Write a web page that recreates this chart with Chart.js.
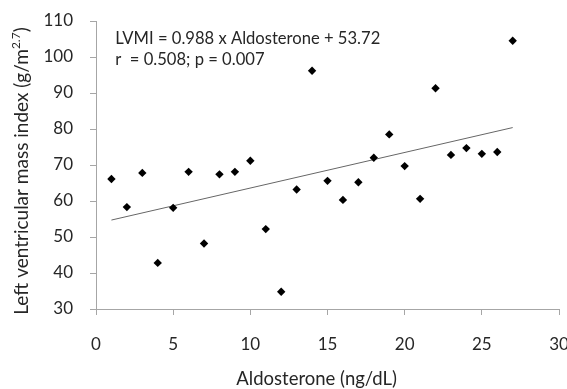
<!DOCTYPE html>
<html>
<head>
<meta charset="utf-8">
<script src="https://cdn.jsdelivr.net/npm/chart.js@4.4.0/dist/chart.umd.min.js"></script>
<style>
  html, body { margin: 0; padding: 0; background: #fff; }
  #wrap { width: 567px; height: 389px; }
</style>
</head>
<body>
<div id="wrap"><canvas id="c" width="567" height="389"></canvas></div>
<script>
// aldosterone (ng/dL) and LVMI (g/m^2.7)
var aldosterone = [1, 2, 3, 4, 5, 6, 7, 8, 9, 10, 11, 12, 13, 14, 15, 16, 17, 18, 19, 20, 21, 22, 23, 24, 25, 26, 27];
var lvmi = [66.1, 58.3, 67.8, 42.8, 58.1, 68.1, 48.2, 67.4, 68.1, 71.2, 52.2, 34.8, 63.2, 96.2, 65.6,
            60.3, 65.2, 72.0, 78.5, 69.7, 60.6, 91.3, 72.8, 74.7, 73.1, 73.6, 104.5];

// regression shown on the chart
var slope = 0.988;
var intercept = 53.72;
var fitRange = [1, 27];
var equationLines = ['LVMI = 0.988 x Aldosterone + 53.72', 'r  = 0.508; p = 0.007'];

var xTicks = [0, 5, 10, 15, 20, 25, 30];
var yTicks = [30, 40, 50, 60, 70, 80, 90, 100, 110];

var xTitle = 'Aldosterone (ng/dL)';
var yTitle = 'Left ventricular mass index (g/m';
var yTitleSup = '2.7';

var points = aldosterone.map(function(x, i) { return { x: x, y: lvmi[i] }; });
var fitLine = fitRange.map(function(x) { return { x: x, y: slope * x + intercept }; });

var FONT = 'Lato, "Open Sans", sans-serif';
var axisColor = '#a6a6a6';
var textColor = '#262626';

// equation text, both axis titles (the y one has a superscript)
var textPlugin = {
    id: 'texts',
    afterDraw: function(chart) {
        var ctx = chart.ctx;
        var xs = chart.scales.x, ys = chart.scales.y;
        ctx.save();
        ctx.fillStyle = textColor;
        ctx.font = '16.6px ' + FONT;
        ctx.textBaseline = 'middle';
        var left = xs.getPixelForValue(1.25);
        ctx.fillText(equationLines[0], left, ys.getPixelForValue(105));
        ctx.fillText(equationLines[1], left, ys.getPixelForValue(99.2));

        // x title, sits a little left of the plot centre like the original
        ctx.font = '18.5px ' + FONT;
        ctx.textAlign = 'center';
        ctx.fillText(xTitle, xs.getPixelForValue(14.3), chart.chartArea.bottom + 70);

        // y axis title, rotated
        var big = '19px ' + FONT, small = '12px ' + FONT;
        ctx.font = big;
        var mainW = ctx.measureText(yTitle).width;
        var closeW = ctx.measureText(')').width;
        ctx.font = small;
        var supW = ctx.measureText(yTitleSup).width;
        var total = mainW + supW + closeW;
        var cy = (chart.chartArea.top + chart.chartArea.bottom) / 2 + 6;
        ctx.translate(22, cy);
        ctx.rotate(-Math.PI / 2);
        ctx.textAlign = 'left';
        var x0 = -total / 2;
        ctx.font = big;
        ctx.fillText(yTitle, x0, 0);
        ctx.font = small;
        ctx.fillText(yTitleSup, x0 + mainW, -6);
        ctx.font = big;
        ctx.fillText(')', x0 + mainW + supW, 0);
        ctx.restore();
    }
};

new Chart(document.getElementById('c').getContext('2d'), {
    type: 'scatter',
    data: {
        datasets: [{
            data: points,
            pointStyle: 'rectRot',
            pointRadius: 4.2,
            backgroundColor: '#000',
            borderColor: '#000',
            borderWidth: 0
        }, {
            type: 'line',
            data: fitLine,
            borderColor: '#666',
            borderWidth: 1,
            pointRadius: 0,
            fill: false
        }]
    },
    options: {
        responsive: false,
        animation: false,
        layout: { padding: { top: 21, right: 8, left: 0, bottom: 0 } },
        plugins: { legend: { display: false }, tooltip: { enabled: false } },
        scales: {
            x: {
                type: 'linear',
                min: 0,
                max: 30,
                afterBuildTicks: function(scale) {
                    scale.ticks = xTicks.map(function(v) { return { value: v }; });
                },
                afterFit: function(scale) {
                    scale.height = 80;
                    scale.paddingLeft = 0;
                    scale.paddingRight = 0;
                },
                grid: { display: true, drawOnChartArea: false, drawTicks: true, tickLength: 6, color: axisColor },
                border: { color: axisColor },
                ticks: { color: textColor, font: { family: FONT, size: 17 }, padding: 19, maxRotation: 0 }
            },
            y: {
                type: 'linear',
                min: 30,
                max: 110,
                afterBuildTicks: function(scale) {
                    scale.ticks = yTicks.map(function(v) { return { value: v }; });
                },
                afterFit: function(scale) {
                    scale.width = 96;
                    scale.paddingTop = 0;
                    scale.paddingBottom = 0;
                },
                grid: { display: true, drawOnChartArea: false, drawTicks: true, tickLength: 6, color: axisColor },
                border: { color: axisColor },
                ticks: { color: textColor, font: { family: FONT, size: 17 }, padding: 17 }
            }
        }
    },
    plugins: [textPlugin]
});
</script>
</body>
</html>
